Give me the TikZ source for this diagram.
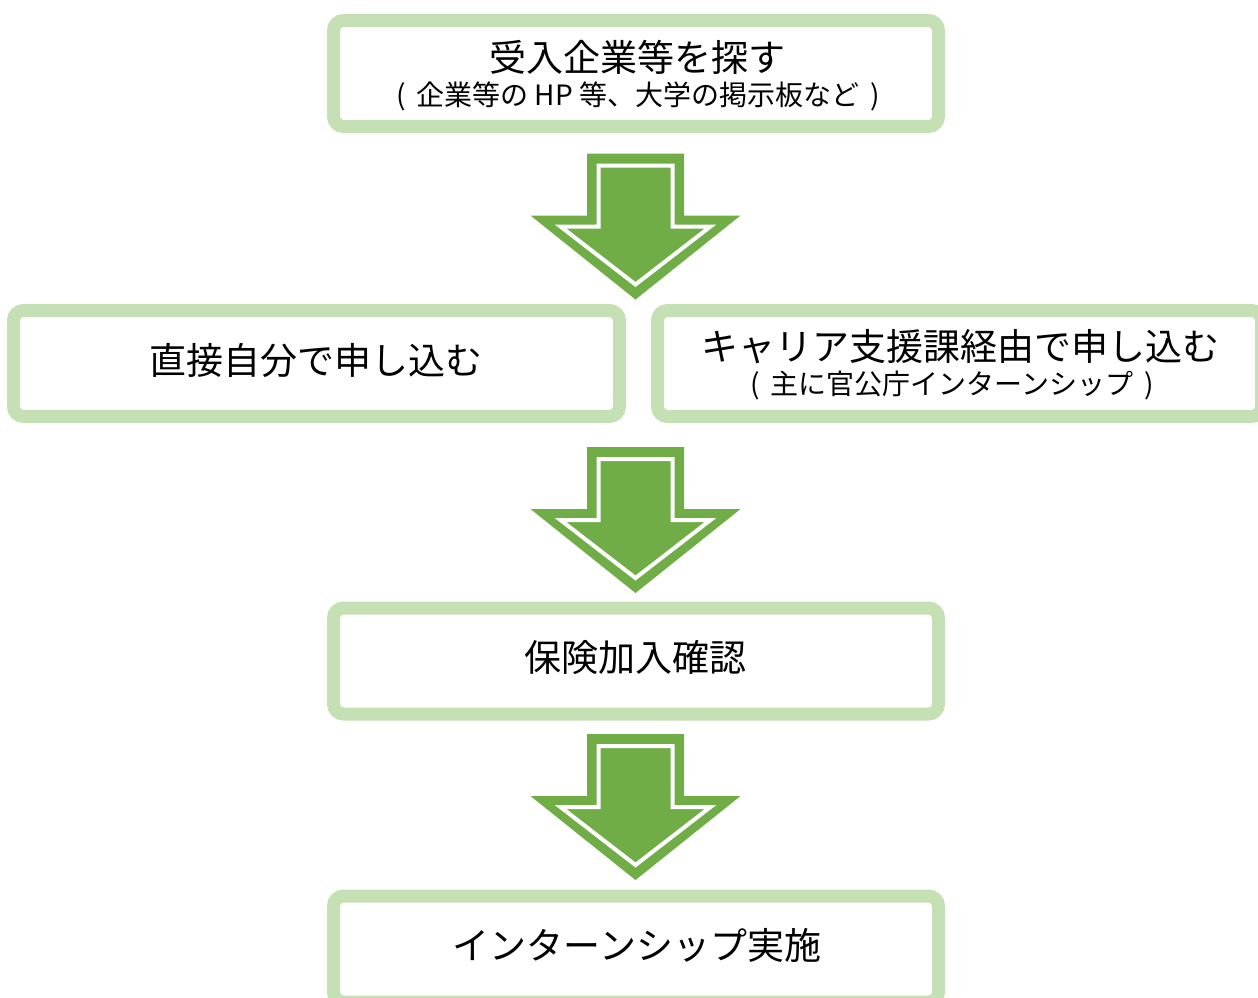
\documentclass[tikz,border=0pt]{standalone}
\usepackage{fontspec}
\setmainfont{Noto Sans CJK JP}
\definecolor{boxgreen}{HTML}{C5E0B4}
\definecolor{arrowgreen}{HTML}{70AD47}
\newcommand{\opn}{(\hspace{0.4em}}
\newcommand{\cls}{\hspace{0.4em})}
\begin{document}
\begin{tikzpicture}[x=1pt,y=-1pt,
  flowbox/.style={draw=boxgreen, line width=13pt, rounded corners=10pt, fill=white,
    minimum width=605pt, minimum height=106pt, inner sep=0pt, outer sep=0pt},
  bigtxt/.style={inner sep=0pt, font=\fontsize{37}{44}\selectfont},
  smalltxt/.style={inner sep=0pt, font=\fontsize{28}{33}\selectfont},
  bigarrow/.pic={
    \fill[arrowgreen] (-48.5,0) -- (48.5,0) -- (48.5,62) -- (105,62) -- (0,146)
      -- (-105,62) -- (-48.5,62) -- cycle;
    \draw[white, line width=4pt, line join=miter]
      (-37,12) -- (37,12) -- (37,73) -- (75,73) -- (0,131) -- (-75,73) -- (-37,73) -- cycle;
  }]
\useasboundingbox (0,0) rectangle (1258,997);
\begin{scope}
\clip (0,0) rectangle (1258,997);
\node[flowbox] (b1) at (636,73.5) {};
\node[flowbox, minimum width=606pt] (b2) at (316.5,363.5) {};
\node[flowbox, minimum width=604pt] (b3) at (959.5,363.5) {};
\node[flowbox] (b4) at (636,661) {};
\node[flowbox] (b5) at (636,949) {};
\end{scope}

\node[bigtxt] (t1) at (637,57) {受入企業等を探す};
\node[smalltxt] (t1s) at (638,96) {\opn 企業等の HP 等、大学の掲示板など\cls};
\node[bigtxt] (t2) at (316,360) {直接自分で申し込む};
\node[bigtxt] (t3) at (960,347) {キャリア支援課経由で申し込む};
\node[smalltxt] (t3s) at (952,385) {\opn 主に官公庁インターンシップ\cls};
\node[bigtxt] (t4) at (635,658) {保険加入確認};
\node[bigtxt] (t5) at (637,945) {インターンシップ実施};

\coordinate (a1) at (635.5,153.5);
\coordinate (a2) at (635.5,447);
\coordinate (a3) at (635.5,734);
\pic at (a1) {bigarrow};
\pic at (a2) {bigarrow};
\pic at (a3) {bigarrow};
\end{tikzpicture}
\end{document}
